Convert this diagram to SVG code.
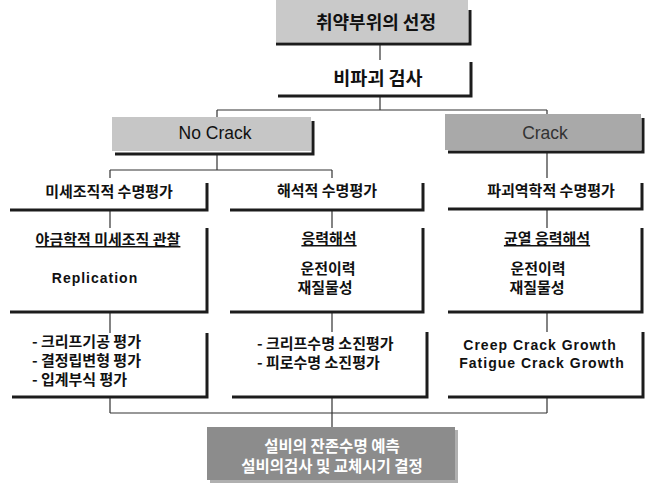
<svg xmlns="http://www.w3.org/2000/svg" width="652" height="487" viewBox="0 0 652 487">
<style>
.sh{fill:none;stroke:#1c1c1c;stroke-width:3}
.cn{fill:none;stroke:#333;stroke-width:1.2}
.kr{font-family:"Noto Sans CJK KR","Noto Sans",sans-serif;font-weight:bold;fill:#111;font-size:15px}
.en{font-family:"Liberation Sans",Arial,sans-serif;font-size:17.5px}
.eb{font-family:"Liberation Sans",Arial,sans-serif;font-weight:bold;font-size:14px;letter-spacing:1px;fill:#111}
.m{text-anchor:middle}
.u{text-decoration:underline}
.w{fill:#fff;font-size:15.5px}
</style>
<rect width="652" height="487" fill="#fff"/>
<g id="connectors">
<path class="cn" d="M380,44V60 M380,97V110 M217,110H547 M217,110V117 M547,110V114"/>
<path class="cn" d="M217,155V170 M110,170H332 M110,170V178 M332,170V178 M547,152V178"/>
<path class="cn" d="M110,210V228 M332,210V228 M547,209V228"/>
<path class="cn" d="M110,312V333 M332,312V332 M547,312V332"/>
<path class="cn" d="M110,397V413 M547,397V413 M110,413H547 M332,397V427"/>
</g>
<g id="n1">
<rect x="276" y="0" width="192" height="42" fill="#c9c9c9"/>
<polyline class="sh" points="470,10 470,44 276,44"/>
<text class="kr m" x="376" y="29" style="font-size:18px">취약부위의 선정</text>
</g>
<g id="n2">
<polyline class="sh" points="471,62 471,96 278,96"/>
<text class="kr m" x="378" y="85" style="font-size:18.5px">비파괴 검사</text>
</g>
<g id="n3">
<rect x="112" y="117" width="199" height="34" fill="#c6c6c6"/>
<polyline class="sh" points="313,121 313,154 115,154"/>
<text class="en m" x="215" y="139" fill="#111">No Crack</text>
</g>
<g id="n4">
<rect x="445" y="114" width="196" height="36" fill="#a9a9a9"/>
<polyline class="sh" points="643,118 643,152 448,152"/>
<text class="en m" x="545" y="139" fill="#333">Crack</text>
</g>
<g id="n5">
<polyline class="sh" points="207,183 207,210 10,210"/>
<text class="kr m" x="109" y="197">미세조직적 수명평가</text>
</g>
<g id="n6">
<polyline class="sh" points="423,183 423,210 230,210"/>
<text class="kr m" x="327" y="196">해석적 수명평가</text>
</g>
<g id="n7">
<polyline class="sh" points="642,183 642,209 448,209"/>
<text class="kr m" x="551" y="196">파괴역학적 수명평가</text>
</g>
<g id="n8">
<polyline class="sh" points="207,228 207,312 10,312"/>
<text class="kr m u" x="108" y="245">야금학적 미세조직 관찰</text>
<text class="eb m" x="95" y="283">Replication</text>
</g>
<g id="n9">
<polyline class="sh" points="423,228 423,312 230,312"/>
<text class="kr m u" x="329" y="244">응력해석</text>
<text class="kr m" x="328" y="274">운전이력</text>
<text class="kr m" x="325" y="293">재질물성</text>
</g>
<g id="n10">
<polyline class="sh" points="642,228 642,312 448,312"/>
<text class="kr m u" x="547" y="244">균열 응력해석</text>
<text class="kr m" x="538" y="274">운전이력</text>
<text class="kr m" x="537" y="293">재질물성</text>
</g>
<g id="n11">
<polyline class="sh" points="207,333 207,397 12,397"/>
<text class="kr" x="32" y="347">- 크리프기공 평가</text>
<text class="kr" x="32" y="366">- 결정립변형 평가</text>
<text class="kr" x="32" y="385">- 입계부식 평가</text>
</g>
<g id="n12">
<polyline class="sh" points="427,332 427,397 232,397"/>
<text class="kr" x="257" y="349">- 크리프수명 소진평가</text>
<text class="kr" x="257" y="368">- 피로수명 소진평가</text>
</g>
<g id="n13">
<polyline class="sh" points="643,332 643,397 448,397"/>
<text class="eb m" x="540" y="350">Creep Crack Growth</text>
<text class="eb m" x="542" y="368">Fatigue Crack Growth</text>
</g>
<g id="n14">
<rect x="210" y="430" width="248" height="53" fill="#b0b0b0"/>
<rect x="207" y="427" width="248" height="53" fill="#8c8c8c"/>
<text class="kr m w" x="332" y="452">설비의 잔존수명 예측</text>
<text class="kr m w" x="332" y="472">설비의검사 및 교체시기 결정</text>
</g>
</svg>
